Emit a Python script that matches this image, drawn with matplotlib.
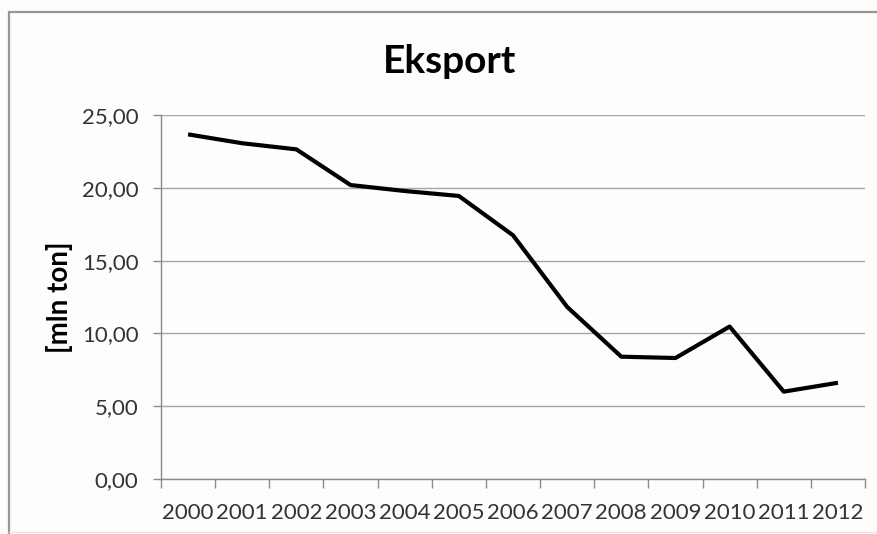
import matplotlib.pyplot as plt
from matplotlib.lines import Line2D
from matplotlib.patches import Rectangle

# data
years = [str(y) for y in range(2000, 2013)]
export = [23.67, 23.06, 22.64, 20.19, 19.78, 19.44, 16.74, 11.82, 8.40, 8.31, 10.47, 6.00, 6.61]
y_ticks = [0, 5, 10, 15, 20, 25]
y_labels = ["0,00", "5,00", "10,00", "15,00", "20,00", "25,00"]

plt.rcParams['font.family'] = ['Lato', 'DejaVu Sans']

W, H = 878, 534
fig = plt.figure(figsize=(W / 100, H / 100), dpi=100)
fig.patch.set_facecolor('#fdfdfb')

# outer chart frame: left + top grey (right and bottom run off the canvas), faint bottom line
fig.add_artist(Rectangle((9.5 / W, -10 / H), (900 - 9.5) / W, (H + 10 - 12) / H,
                         transform=fig.transFigure, fill=False, edgecolor='#969696', lw=1.6))
fig.add_artist(Line2D([9.5 / W, 1.0], [1 - 532 / H, 1 - 532 / H], transform=fig.transFigure,
                      color='#e6e6e6', lw=1))

ax = fig.add_axes([161 / W, 1 - 479 / H, (865 - 161) / W, (479 - 115) / H])
ax.set_facecolor('#fdfdfb')

x = list(range(len(years)))
ax.plot(x, export, color='black', lw=3, solid_joinstyle='round', solid_capstyle='butt', zorder=3)

ax.set_xlim(-0.5, len(years) - 0.5)
ax.set_ylim(0, 25)

# category axis: tick marks between categories, labels at centres
ax.set_xticks([i - 0.5 for i in range(len(years) + 1)])
ax.set_xticklabels([])
ax.set_xticks(x, minor=True)
ax.set_xticklabels(years, minor=True, fontsize=16, color='#333333')
ax.tick_params(axis='x', which='major', length=6.5, color='#8c8c8c', width=1)
ax.tick_params(axis='x', which='minor', length=0, pad=17.5)

ax.set_yticks(y_ticks)
ax.set_yticklabels(y_labels, fontsize=16, color='#333333')
ax.tick_params(axis='y', length=5.8, color='#8c8c8c', width=1, pad=10.5)

ax.grid(axis='y', color='#a6a6a6', lw=1)
ax.set_axisbelow(True)
for side in ['top', 'right']:
    ax.spines[side].set_visible(False)
for side in ['left', 'bottom']:
    ax.spines[side].set_color('#8c8c8c')
    ax.spines[side].set_linewidth(1)

# axis title and chart title placed directly
fig.text(60 / W, 1 - 297 / H, '[mln ton]', rotation=90, ha='center', va='center',
         fontsize=20, fontweight='bold', color='black')
fig.text(449.5 / W, 1 - 73 / H, 'Eksport', ha='center', va='baseline',
         fontsize=28, fontweight='bold', color='black')

fig.savefig('out.png', dpi=100, facecolor=fig.get_facecolor())
